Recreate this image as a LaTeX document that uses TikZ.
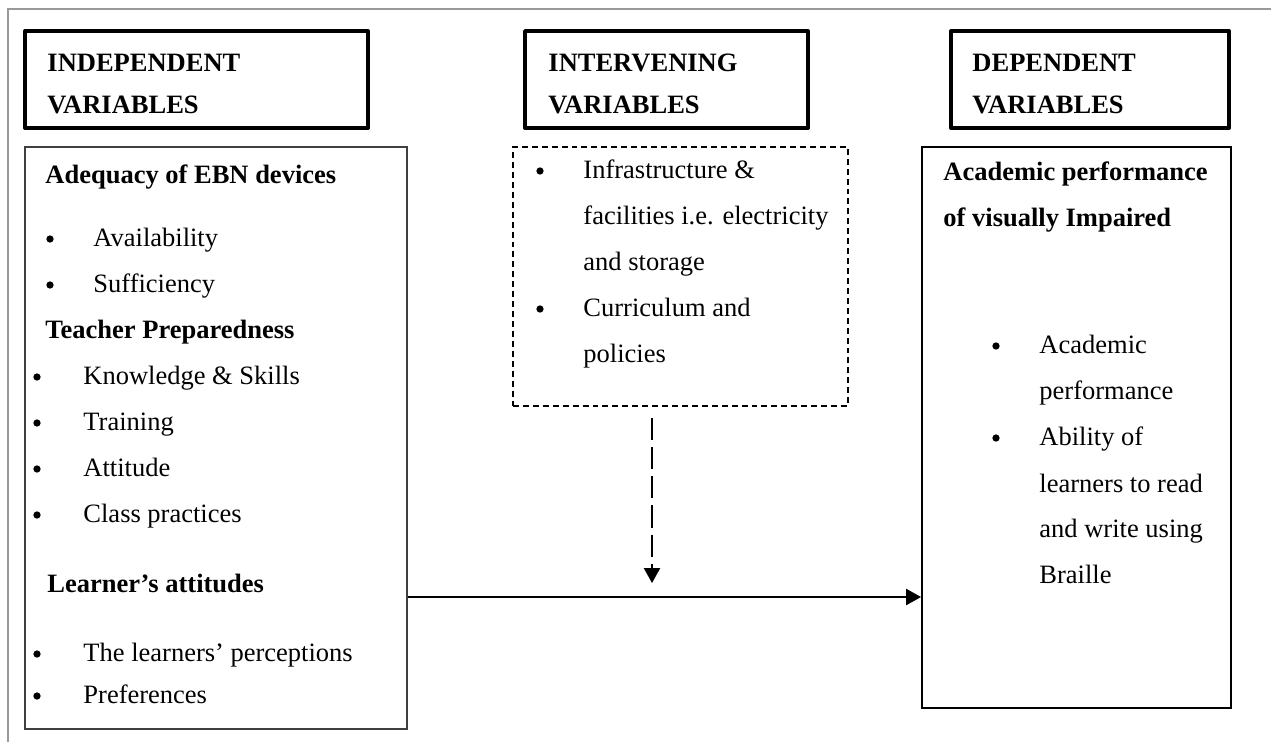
\documentclass[tikz,border=0pt]{standalone}
\usepackage{fontspec}
\setmainfont{Liberation Serif}
\usetikzlibrary{arrows.meta}

\begin{document}
\begin{tikzpicture}[x=0.4528pt, y=-0.4528pt,
  every node/.style={inner sep=0pt, font=\fontsize{12}{14}\selectfont},
  txt/.style={anchor=base west},
  bold/.style={anchor=base west, font=\fontsize{12}{14}\selectfont\bfseries},
  dot/.style={circle, fill, minimum size=3.3pt},
  hdbox/.style={draw, line width=1.8pt, line join=round, minimum height=43.9pt},
  varbox/.style={draw, line width=0.8pt},
  frame/.style={draw=gray!80, line width=0.5pt},
  conn/.style={line width=1.1pt, -{Triangle[length=6.8pt, width=7.2pt]}},
  dconn/.style={conn, dash pattern=on 10pt off 3.2pt}]
  \useasboundingbox (0,0) rectangle (1271,742);
  \draw[frame] (8,742) -- (8,9) -- (1271,9);

  % headings
  \node[hdbox, minimum width=155.3pt] (indhd) at (196.5,79.5) {};
  \node[hdbox, minimum width=128.1pt] (inthd) at (666.5,79.5) {};
  \node[hdbox, minimum width=125.9pt] (dephd) at (1090,79.5) {};
  \node[bold] (indt1) at (47,71) {INDEPENDENT};
  \node[bold] (indt2) at (47,113) {VARIABLES};
  \node[bold] (intt1) at (548,71) {INTERVENING};
  \node[bold] (intt2) at (548,113) {VARIABLES};
  \node[bold] (dept1) at (972,71) {DEPENDENT};
  \node[bold] (dept2) at (972,113) {VARIABLES};

  % variable boxes
  \node[varbox, draw=black!75, minimum width=173.0pt, minimum height=263.5pt] (indbox) at (216,438) {};
  \node[varbox, dash pattern=on 2.7pt off 1.8pt, minimum width=151.7pt, minimum height=117.3pt] (intbox) at (680.5,276.5) {};
  \node[varbox, minimum width=139.9pt, minimum height=254.0pt] (depbox) at (1076.5,427.5) {};

  % independent
  \node[bold] (adq) at (45,183) {Adequacy of EBN devices};
  \node[dot] (b1) at (50,239) {};
  \node[txt] (avail) at (93,246) {Availability};
  \node[dot] (b2) at (50,285) {};
  \node[txt] (suff) at (93,292) {Sufficiency};
  \node[bold] (prep) at (45,338) {Teacher Preparedness};
  \node[dot] (b3) at (37,377) {};
  \node[txt] (know) at (83,384) {Knowledge \& Skills};
  \node[dot] (b4) at (37,423) {};
  \node[txt] (train) at (83,430) {Training};
  \node[dot] (b5) at (37,469) {};
  \node[txt] (att) at (83,476) {Attitude};
  \node[dot] (b6) at (37,515) {};
  \node[txt] (prac) at (83,522) {Class practices};
  \node[bold] (learn) at (47,592) {Learner’s attitudes};
  \node[dot] (b7) at (37,654) {};
  \node[txt] (perc) at (83,661) {The learners’ perceptions};
  \node[dot] (b8) at (37,696) {};
  \node[txt] (pref) at (83,703) {Preferences};

  % intervening
  \node[dot] (b9) at (540,171) {};
  \node[txt] (infra1) at (583,178) {Infrastructure \&};
  \node[txt] (infra2) at (583,224) {facilities i.e. electricity};
  \node[txt] (infra3) at (583,270) {and storage};
  \node[dot] (b10) at (540,309) {};
  \node[txt] (curr1) at (583,316) {Curriculum and};
  \node[txt] (curr2) at (583,362) {policies};

  % dependent
  \node[bold] (perf1) at (943,180) {Academic performance};
  \node[bold] (perf2) at (943,226) {of visually Impaired};
  \node[dot] (b11) at (996,346) {};
  \node[txt] (acad1) at (1039,353) {Academic};
  \node[txt] (acad2) at (1039,399) {performance};
  \node[dot] (b12) at (996,438) {};
  \node[txt] (abil1) at (1039,445) {Ability of};
  \node[txt] (abil2) at (1039,492) {learners to read};
  \node[txt] (abil3) at (1039,537) {and write using};
  \node[txt] (abil4) at (1039,583) {Braille};

  % arrows
  \coordinate (arrowy) at (0,597);
  \coordinate (dtop) at (652,418);
  \draw[conn] (indbox.east |- arrowy) -- (depbox.west |- arrowy);
  \draw[dconn, shorten >=6.3pt] (dtop) -- (dtop |- arrowy);
\end{tikzpicture}
\end{document}
